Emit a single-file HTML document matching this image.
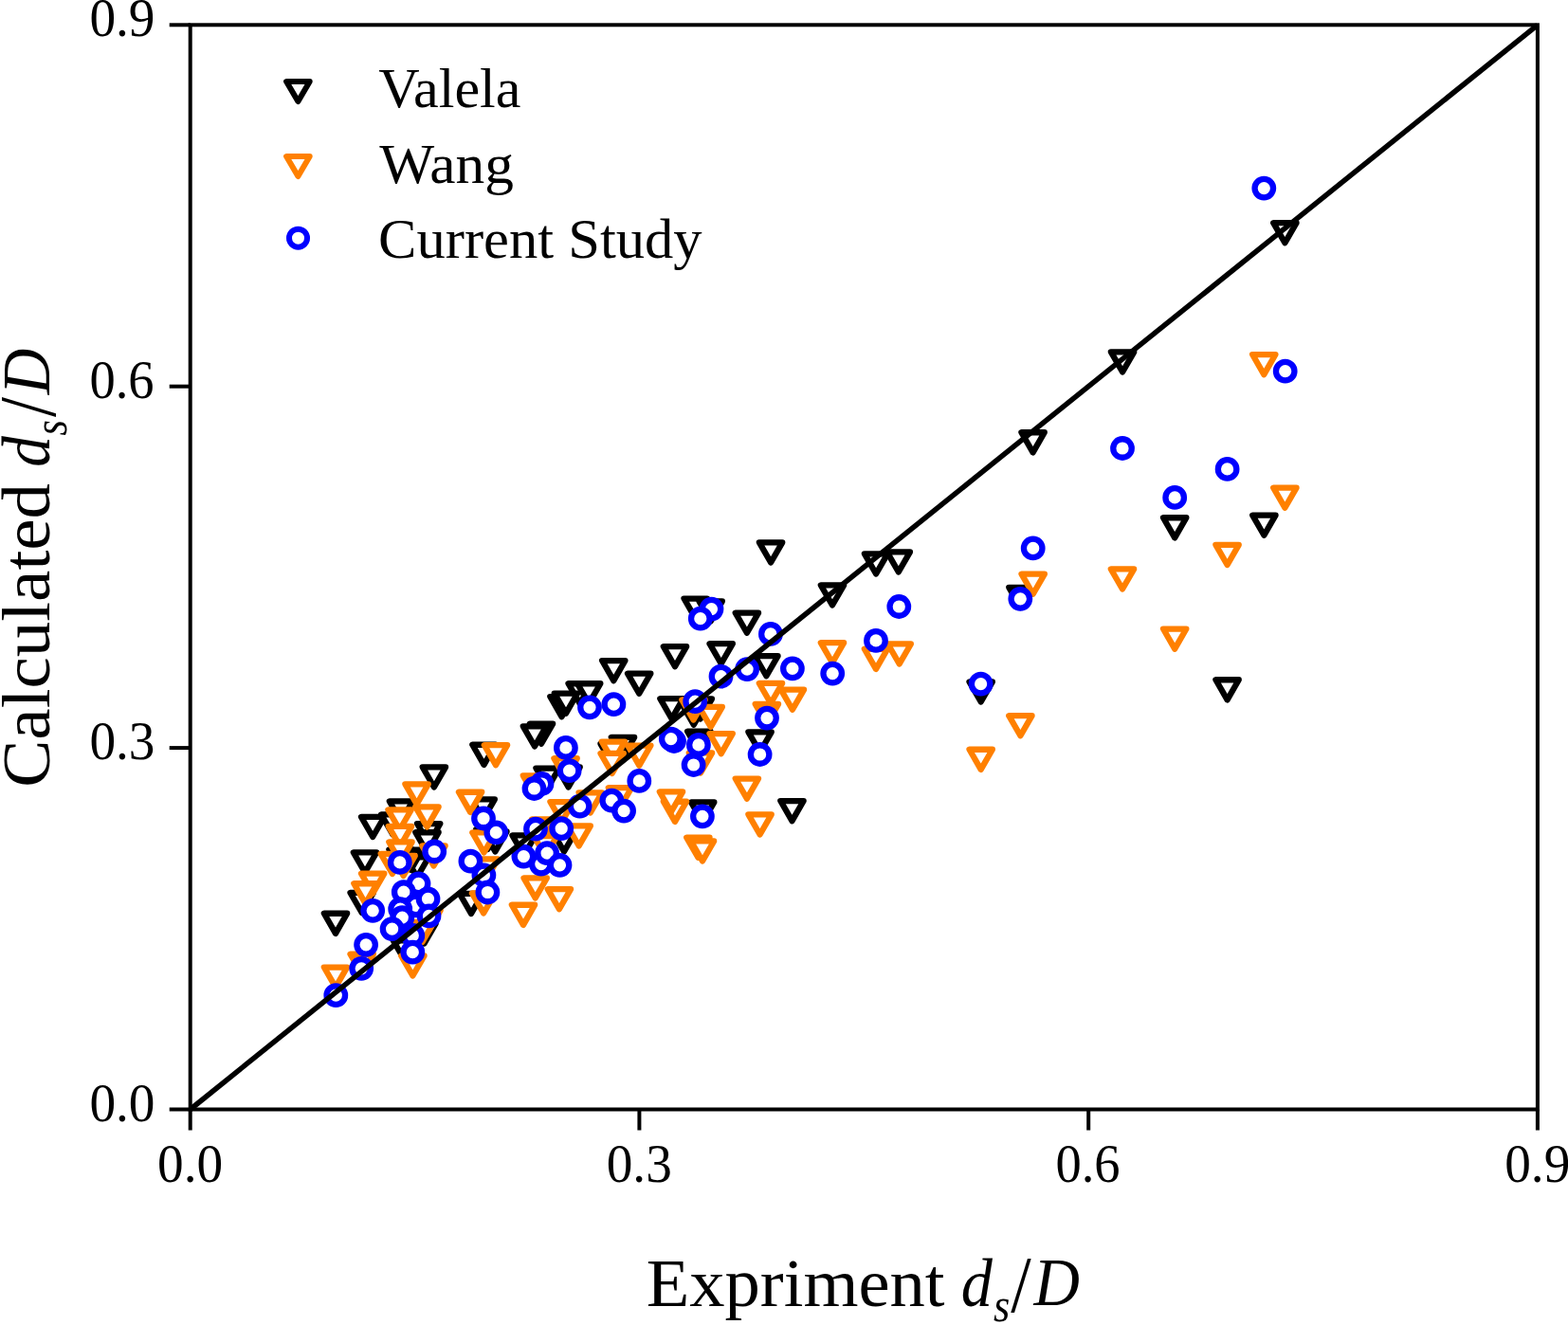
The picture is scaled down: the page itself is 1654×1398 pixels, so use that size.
<!DOCTYPE html>
<html><head><meta charset="utf-8"><title>Calculated vs Experiment</title>
<style>html,body{margin:0;padding:0;background:#fff;width:1654px;height:1398px;overflow:hidden}svg{display:block}</style>
</head><body>
<svg width="1654" height="1398" viewBox="0 0 1654 1398" font-family='"Liberation Serif", "DejaVu Serif", serif'>
<rect width="1654" height="1398" fill="#fff"/>
<g fill="#fff" stroke-width="6.3" stroke-linejoin="round">
<path d="M1343.25 235.15H1367.55L1355.40 256.25Z" stroke="#000"/>
<path d="M1171.95 371.35H1196.25L1184.10 392.45Z" stroke="#000"/>
<path d="M1077.45 456.25H1101.75L1089.60 477.35Z" stroke="#000"/>
<path d="M1227.05 546.25H1251.35L1239.20 567.35Z" stroke="#000"/>
<path d="M1321.25 543.65H1345.55L1333.40 564.75Z" stroke="#000"/>
<path d="M1064.35 619.85H1088.65L1076.50 640.95Z" stroke="#000"/>
<path d="M1022.55 719.45H1046.85L1034.70 740.55Z" stroke="#000"/>
<path d="M1282.45 717.25H1306.75L1294.60 738.35Z" stroke="#000"/>
<path d="M865.85 617.45H890.15L878.00 638.55Z" stroke="#000"/>
<path d="M911.95 584.35H936.25L924.10 605.45Z" stroke="#000"/>
<path d="M935.65 582.35H959.95L947.80 603.45Z" stroke="#000"/>
<path d="M800.95 572.35H825.25L813.10 593.45Z" stroke="#000"/>
<path d="M721.55 631.55H745.85L733.70 652.65Z" stroke="#000"/>
<path d="M737.55 634.35H761.85L749.70 655.45Z" stroke="#000"/>
<path d="M775.75 646.65H800.05L787.90 667.75Z" stroke="#000"/>
<path d="M699.85 682.15H724.15L712.00 703.25Z" stroke="#000"/>
<path d="M748.55 679.15H772.85L760.70 700.25Z" stroke="#000"/>
<path d="M796.25 692.15H820.55L808.40 713.25Z" stroke="#000"/>
<path d="M696.35 737.15H720.65L708.50 758.25Z" stroke="#000"/>
<path d="M726.65 737.35H750.95L738.80 758.45Z" stroke="#000"/>
<path d="M719.65 743.55H743.95L731.80 764.65Z" stroke="#000"/>
<path d="M725.15 771.75H749.45L737.30 792.85Z" stroke="#000"/>
<path d="M789.45 772.35H813.75L801.60 793.45Z" stroke="#000"/>
<path d="M635.15 697.05H659.45L647.30 718.15Z" stroke="#000"/>
<path d="M662.05 710.65H686.35L674.20 731.75Z" stroke="#000"/>
<path d="M599.55 721.25H623.85L611.70 742.35Z" stroke="#000"/>
<path d="M609.05 721.25H633.35L621.20 742.35Z" stroke="#000"/>
<path d="M580.35 735.05H604.65L592.50 756.15Z" stroke="#000"/>
<path d="M584.85 731.55H609.15L597.00 752.65Z" stroke="#000"/>
<path d="M558.85 763.65H583.15L571.00 784.75Z" stroke="#000"/>
<path d="M551.85 766.35H576.15L564.00 787.45Z" stroke="#000"/>
<path d="M644.85 777.95H669.15L657.00 799.05Z" stroke="#000"/>
<path d="M633.55 784.85H657.85L645.70 805.95Z" stroke="#000"/>
<path d="M565.45 810.55H589.75L577.60 831.65Z" stroke="#000"/>
<path d="M587.45 809.35H611.75L599.60 830.45Z" stroke="#000"/>
<path d="M498.35 785.75H522.65L510.50 806.85Z" stroke="#000"/>
<path d="M497.55 843.35H521.85L509.70 864.45Z" stroke="#000"/>
<path d="M445.75 809.35H470.05L457.90 830.45Z" stroke="#000"/>
<path d="M510.25 877.45H534.55L522.40 898.55Z" stroke="#000"/>
<path d="M540.45 881.45H564.75L552.60 902.55Z" stroke="#000"/>
<path d="M440.05 869.05H464.35L452.20 890.15Z" stroke="#000"/>
<path d="M438.35 878.25H462.65L450.50 899.35Z" stroke="#000"/>
<path d="M410.85 845.45H435.15L423.00 866.55Z" stroke="#000"/>
<path d="M381.05 861.95H405.35L393.20 883.05Z" stroke="#000"/>
<path d="M402.15 859.45H426.45L414.30 880.55Z" stroke="#000"/>
<path d="M372.85 899.45H397.15L385.00 920.55Z" stroke="#000"/>
<path d="M410.45 896.45H434.75L422.60 917.55Z" stroke="#000"/>
<path d="M427.85 904.45H452.15L440.00 925.55Z" stroke="#000"/>
<path d="M421.15 896.75H445.45L433.30 917.85Z" stroke="#000"/>
<path d="M369.55 941.95H393.85L381.70 963.05Z" stroke="#000"/>
<path d="M341.85 963.75H366.15L354.00 984.85Z" stroke="#000"/>
<path d="M435.35 974.45H459.65L447.50 995.55Z" stroke="#000"/>
<path d="M414.85 992.45H439.15L427.00 1013.55Z" stroke="#000"/>
<path d="M582.85 877.45H607.15L595.00 898.55Z" stroke="#000"/>
<path d="M484.85 942.95H509.15L497.00 964.05Z" stroke="#000"/>
<path d="M729.05 846.45H753.35L741.20 867.55Z" stroke="#000"/>
<path d="M823.35 845.05H847.65L835.50 866.15Z" stroke="#000"/>
<path d="M502.35 874.95H526.65L514.50 896.05Z" stroke="#000"/>
<path d="M1321.15 374.05H1345.45L1333.30 395.15Z" stroke="#FF8000"/>
<path d="M1343.25 514.65H1367.55L1355.40 535.75Z" stroke="#FF8000"/>
<path d="M1282.45 574.85H1306.75L1294.60 595.95Z" stroke="#FF8000"/>
<path d="M1077.55 605.65H1101.85L1089.70 626.75Z" stroke="#FF8000"/>
<path d="M1171.85 600.45H1196.15L1184.00 621.55Z" stroke="#FF8000"/>
<path d="M1064.25 755.15H1088.55L1076.40 776.25Z" stroke="#FF8000"/>
<path d="M1022.55 790.75H1046.85L1034.70 811.85Z" stroke="#FF8000"/>
<path d="M1227.05 663.55H1251.35L1239.20 684.65Z" stroke="#FF8000"/>
<path d="M865.85 678.15H890.15L878.00 699.25Z" stroke="#FF8000"/>
<path d="M911.85 684.75H936.15L924.00 705.85Z" stroke="#FF8000"/>
<path d="M936.55 679.45H960.85L948.70 700.55Z" stroke="#FF8000"/>
<path d="M800.85 720.95H825.15L813.00 742.05Z" stroke="#FF8000"/>
<path d="M823.75 727.65H848.05L835.90 748.75Z" stroke="#FF8000"/>
<path d="M796.75 742.85H821.05L808.90 763.95Z" stroke="#FF8000"/>
<path d="M719.35 738.45H743.65L731.50 759.55Z" stroke="#FF8000"/>
<path d="M737.55 745.95H761.85L749.70 767.05Z" stroke="#FF8000"/>
<path d="M748.55 774.05H772.85L760.70 795.15Z" stroke="#FF8000"/>
<path d="M634.85 782.55H659.15L647.00 803.65Z" stroke="#FF8000"/>
<path d="M633.55 794.95H657.85L645.70 816.05Z" stroke="#FF8000"/>
<path d="M662.15 786.55H686.45L674.30 807.65Z" stroke="#FF8000"/>
<path d="M584.45 800.25H608.75L596.60 821.35Z" stroke="#FF8000"/>
<path d="M641.85 831.15H666.15L654.00 852.25Z" stroke="#FF8000"/>
<path d="M610.65 836.35H634.95L622.80 857.45Z" stroke="#FF8000"/>
<path d="M699.85 845.75H724.15L712.00 866.85Z" stroke="#FF8000"/>
<path d="M695.85 835.45H720.15L708.00 856.55Z" stroke="#FF8000"/>
<path d="M510.85 786.15H535.15L523.00 807.25Z" stroke="#FF8000"/>
<path d="M551.85 818.35H576.15L564.00 839.45Z" stroke="#FF8000"/>
<path d="M483.95 835.75H508.25L496.10 856.85Z" stroke="#FF8000"/>
<path d="M580.45 846.05H604.75L592.60 867.15Z" stroke="#FF8000"/>
<path d="M427.45 827.35H451.75L439.60 848.45Z" stroke="#FF8000"/>
<path d="M438.35 851.35H462.65L450.50 872.45Z" stroke="#FF8000"/>
<path d="M498.35 878.45H522.65L510.50 899.55Z" stroke="#FF8000"/>
<path d="M552.55 926.45H576.85L564.70 947.55Z" stroke="#FF8000"/>
<path d="M445.35 892.45H469.65L457.50 913.55Z" stroke="#FF8000"/>
<path d="M409.45 854.45H433.75L421.60 875.55Z" stroke="#FF8000"/>
<path d="M409.85 871.85H434.15L422.00 892.95Z" stroke="#FF8000"/>
<path d="M410.35 888.45H434.65L422.50 909.55Z" stroke="#FF8000"/>
<path d="M401.75 900.85H426.05L413.90 921.95Z" stroke="#FF8000"/>
<path d="M413.45 902.95H437.75L425.60 924.05Z" stroke="#FF8000"/>
<path d="M381.05 921.65H405.35L393.20 942.75Z" stroke="#FF8000"/>
<path d="M373.35 932.25H397.65L385.50 953.35Z" stroke="#FF8000"/>
<path d="M423.25 1008.45H447.55L435.40 1029.55Z" stroke="#FF8000"/>
<path d="M440.35 960.45H464.65L452.50 981.55Z" stroke="#FF8000"/>
<path d="M369.55 1006.75H393.85L381.70 1027.85Z" stroke="#FF8000"/>
<path d="M341.85 1020.55H366.15L354.00 1041.65Z" stroke="#FF8000"/>
<path d="M561.15 864.45H585.45L573.30 885.55Z" stroke="#FF8000"/>
<path d="M500.85 906.45H525.15L513.00 927.55Z" stroke="#FF8000"/>
<path d="M497.95 942.45H522.25L510.10 963.55Z" stroke="#FF8000"/>
<path d="M577.75 938.15H602.05L589.90 959.25Z" stroke="#FF8000"/>
<path d="M539.85 954.75H564.15L552.00 975.85Z" stroke="#FF8000"/>
<path d="M598.55 871.45H622.85L610.70 892.55Z" stroke="#FF8000"/>
<path d="M726.85 794.45H751.15L739.00 815.55Z" stroke="#FF8000"/>
<path d="M775.75 821.55H800.05L787.90 842.65Z" stroke="#FF8000"/>
<path d="M789.45 859.35H813.75L801.60 880.45Z" stroke="#FF8000"/>
<path d="M724.25 883.65H748.55L736.40 904.75Z" stroke="#FF8000"/>
<path d="M728.85 887.45H753.15L741.00 908.55Z" stroke="#FF8000"/>
<path d="M433.35 972.95H457.65L445.50 994.05Z" stroke="#FF8000"/>
<path d="M563.15 882.15H587.45L575.30 903.25Z" stroke="#FF8000"/>
</g>
<g fill="#fff" stroke="#0000FF" stroke-width="6.3">
<circle cx="1333.30" cy="198.60" r="9.75"/>
<circle cx="1355.70" cy="391.70" r="9.75"/>
<circle cx="1184.00" cy="473.00" r="9.75"/>
<circle cx="1294.60" cy="494.90" r="9.75"/>
<circle cx="1239.20" cy="524.90" r="9.75"/>
<circle cx="1089.70" cy="578.40" r="9.75"/>
<circle cx="1076.30" cy="631.80" r="9.75"/>
<circle cx="1034.60" cy="721.70" r="9.75"/>
<circle cx="948.30" cy="640.00" r="9.75"/>
<circle cx="924.00" cy="675.90" r="9.75"/>
<circle cx="878.20" cy="710.60" r="9.75"/>
<circle cx="750.50" cy="642.60" r="9.75"/>
<circle cx="738.80" cy="652.70" r="9.75"/>
<circle cx="812.90" cy="668.90" r="9.75"/>
<circle cx="760.50" cy="713.70" r="9.75"/>
<circle cx="788.10" cy="706.10" r="9.75"/>
<circle cx="835.90" cy="705.30" r="9.75"/>
<circle cx="809.00" cy="757.60" r="9.75"/>
<circle cx="733.20" cy="740.20" r="9.75"/>
<circle cx="711.00" cy="782.00" r="9.75"/>
<circle cx="707.80" cy="779.60" r="9.75"/>
<circle cx="736.90" cy="785.90" r="9.75"/>
<circle cx="622.00" cy="746.30" r="9.75"/>
<circle cx="647.40" cy="743.20" r="9.75"/>
<circle cx="596.90" cy="788.90" r="9.75"/>
<circle cx="600.60" cy="813.20" r="9.75"/>
<circle cx="571.50" cy="827.00" r="9.75"/>
<circle cx="563.50" cy="832.00" r="9.75"/>
<circle cx="674.30" cy="823.90" r="9.75"/>
<circle cx="731.60" cy="807.00" r="9.75"/>
<circle cx="645.30" cy="844.70" r="9.75"/>
<circle cx="510.00" cy="863.50" r="9.75"/>
<circle cx="611.60" cy="850.60" r="9.75"/>
<circle cx="658.10" cy="855.60" r="9.75"/>
<circle cx="523.30" cy="878.40" r="9.75"/>
<circle cx="565.00" cy="874.70" r="9.75"/>
<circle cx="592.20" cy="874.20" r="9.75"/>
<circle cx="552.40" cy="903.60" r="9.75"/>
<circle cx="570.80" cy="911.60" r="9.75"/>
<circle cx="577.10" cy="900.20" r="9.75"/>
<circle cx="590.50" cy="912.80" r="9.75"/>
<circle cx="458.20" cy="898.50" r="9.75"/>
<circle cx="496.40" cy="908.70" r="9.75"/>
<circle cx="510.40" cy="923.30" r="9.75"/>
<circle cx="421.80" cy="909.90" r="9.75"/>
<circle cx="441.50" cy="932.30" r="9.75"/>
<circle cx="425.80" cy="941.20" r="9.75"/>
<circle cx="438.80" cy="955.30" r="9.75"/>
<circle cx="451.50" cy="948.30" r="9.75"/>
<circle cx="422.20" cy="959.10" r="9.75"/>
<circle cx="393.20" cy="960.80" r="9.75"/>
<circle cx="424.30" cy="968.10" r="9.75"/>
<circle cx="452.50" cy="966.30" r="9.75"/>
<circle cx="413.60" cy="980.10" r="9.75"/>
<circle cx="435.30" cy="987.00" r="9.75"/>
<circle cx="435.30" cy="1004.70" r="9.75"/>
<circle cx="386.10" cy="996.80" r="9.75"/>
<circle cx="381.20" cy="1021.80" r="9.75"/>
<circle cx="354.30" cy="1050.20" r="9.75"/>
<circle cx="514.40" cy="941.50" r="9.75"/>
<circle cx="801.60" cy="796.00" r="9.75"/>
<circle cx="740.90" cy="861.30" r="9.75"/>
</g>
<line x1="200.7" y1="1170.5" x2="1621.9" y2="26.3" stroke="#000" stroke-width="5.5"/>
<rect x="200.7" y="26.3" width="1421.2" height="1144.2" fill="none" stroke="#000" stroke-width="4"/>
<line x1="200.7" y1="1170.5" x2="200.7" y2="1192.5" stroke="#000" stroke-width="4"/>
<line x1="178.7" y1="1170.5" x2="200.7" y2="1170.5" stroke="#000" stroke-width="4"/>
<line x1="674.4" y1="1170.5" x2="674.4" y2="1192.5" stroke="#000" stroke-width="4"/>
<line x1="178.7" y1="789.1" x2="200.7" y2="789.1" stroke="#000" stroke-width="4"/>
<line x1="1148.2" y1="1170.5" x2="1148.2" y2="1192.5" stroke="#000" stroke-width="4"/>
<line x1="178.7" y1="407.7" x2="200.7" y2="407.7" stroke="#000" stroke-width="4"/>
<line x1="1621.9" y1="1170.5" x2="1621.9" y2="1192.5" stroke="#000" stroke-width="4"/>
<line x1="178.7" y1="26.3" x2="200.7" y2="26.3" stroke="#000" stroke-width="4"/>
<g fill="#fff" stroke-width="6" stroke-linejoin="round"><path d="M302.10 86.00H326.70L314.40 107.00Z" stroke="#000"/></g>
<g fill="#fff" stroke-width="6" stroke-linejoin="round"><path d="M302.10 165.00H326.70L314.40 186.00Z" stroke="#FF8000"/></g>
<circle cx="314.5" cy="251.2" r="9.5" fill="none" stroke="#0000FF" stroke-width="6"/>
<text x="94.4" y="1182.5" font-size="58" textLength="69.1" lengthAdjust="spacingAndGlyphs">0.0</text>
<text x="166.0" y="1247.0" font-size="58" textLength="69.1" lengthAdjust="spacingAndGlyphs">0.0</text>
<text x="94.4" y="801.1" font-size="58" textLength="69.1" lengthAdjust="spacingAndGlyphs">0.3</text>
<text x="639.7" y="1247.0" font-size="58" textLength="69.1" lengthAdjust="spacingAndGlyphs">0.3</text>
<text x="94.4" y="419.7" font-size="58" textLength="68.1" lengthAdjust="spacingAndGlyphs">0.6</text>
<text x="1113.5" y="1247.0" font-size="58" textLength="68.1" lengthAdjust="spacingAndGlyphs">0.6</text>
<text x="94.4" y="38.3" font-size="58" textLength="69.1" lengthAdjust="spacingAndGlyphs">0.9</text>
<text x="1587.2" y="1247.0" font-size="58" textLength="69.1" lengthAdjust="spacingAndGlyphs">0.9</text>
<text x="399.3" y="112.9" font-size="58.5" textLength="150.2" lengthAdjust="spacingAndGlyphs">Valela</text>
<text x="400.3" y="193.3" font-size="58.5" textLength="141.7" lengthAdjust="spacingAndGlyphs">Wang</text>
<text x="399.1" y="271.6" font-size="58.5" textLength="341.5" lengthAdjust="spacingAndGlyphs">Current Study</text>
<text font-size="72"><tspan x="681.7" y="1377.5" font-size="72" textLength="314.9" lengthAdjust="spacingAndGlyphs">Expriment</tspan> <tspan x="1013.8" y="1377.8" font-size="72" font-style="italic" textLength="33.1" lengthAdjust="spacingAndGlyphs">d</tspan><tspan x="1048.0" y="1394.3" font-size="50" font-style="italic" textLength="17.3" lengthAdjust="spacingAndGlyphs">s</tspan><tspan x="1066.3" y="1383.8" font-size="84" textLength="21.4" lengthAdjust="spacingAndGlyphs">/</tspan><tspan x="1090.6" y="1377.3" font-size="72" font-style="italic" textLength="48.4" lengthAdjust="spacingAndGlyphs">D</tspan></text>
<text font-size="72" transform="rotate(-90)"><tspan x="-830.7" y="52.3" font-size="72" textLength="320.7" lengthAdjust="spacingAndGlyphs">Calculated</tspan> <tspan x="-492.7" y="52.2" font-size="72" font-style="italic" textLength="32.6" lengthAdjust="spacingAndGlyphs">d</tspan><tspan x="-459.5" y="69.8" font-size="50" font-style="italic" textLength="16.4" lengthAdjust="spacingAndGlyphs">s</tspan><tspan x="-440.1" y="57.7" font-size="84" textLength="21.0" lengthAdjust="spacingAndGlyphs">/</tspan><tspan x="-416.3" y="52.2" font-size="72" font-style="italic" textLength="48.6" lengthAdjust="spacingAndGlyphs">D</tspan></text>
</svg>
</body></html>
